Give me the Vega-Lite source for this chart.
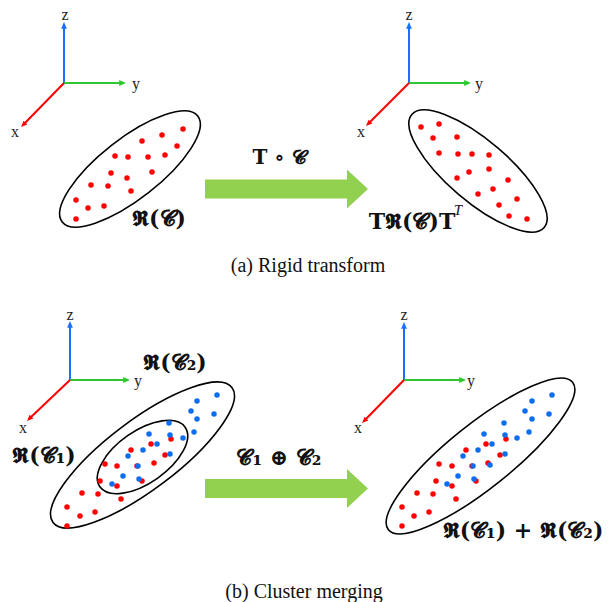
{
  "$schema": "https://vega.github.io/schema/vega-lite/v6.json",
  "autosize": {"type": "fit", "contains": "padding"},
  "width": 608,
  "height": 602,
  "padding": 0,
  "background": "white",
  "config": {"view": {"stroke": null}},
  "datasets": {
    "dots": [
      {"x":183,"y":129,"c":"red"},{"x":162,"y":135,"c":"red"},{"x":142,"y":141,"c":"red"},{"x":177,"y":146,"c":"red"},
      {"x":115,"y":156,"c":"red"},{"x":128,"y":157,"c":"red"},{"x":148,"y":157,"c":"red"},{"x":165,"y":155,"c":"red"},
      {"x":111,"y":173,"c":"red"},{"x":127,"y":178,"c":"red"},{"x":152,"y":172,"c":"red"},{"x":91,"y":185,"c":"red"},
      {"x":108,"y":186,"c":"red"},{"x":131,"y":191,"c":"red"},{"x":76,"y":200,"c":"red"},{"x":88,"y":208,"c":"red"},
      {"x":104,"y":206,"c":"red"},{"x":76,"y":219,"c":"red"},
      {"x":421,"y":127,"c":"red"},{"x":439,"y":124,"c":"red"},{"x":433,"y":138,"c":"red"},{"x":457,"y":137,"c":"red"},
      {"x":439,"y":153,"c":"red"},{"x":458,"y":154,"c":"red"},{"x":472,"y":154,"c":"red"},{"x":489,"y":155,"c":"red"},
      {"x":489,"y":169,"c":"red"},{"x":469,"y":172,"c":"red"},{"x":457,"y":178,"c":"red"},{"x":508,"y":180,"c":"red"},
      {"x":493,"y":189,"c":"red"},{"x":478,"y":194,"c":"red"},{"x":517,"y":199,"c":"red"},{"x":499,"y":205,"c":"red"},
      {"x":509,"y":216,"c":"red"},{"x":527,"y":219,"c":"red"},
      {"x":171,"y":439,"c":"red"},{"x":151,"y":444,"c":"red"},{"x":131,"y":450,"c":"red"},{"x":165,"y":455,"c":"red"},
      {"x":105,"y":464,"c":"red"},{"x":117,"y":466,"c":"red"},{"x":137,"y":466,"c":"red"},{"x":154,"y":463,"c":"red"},
      {"x":100,"y":481,"c":"red"},{"x":142,"y":481,"c":"red"},{"x":117,"y":486,"c":"red"},{"x":82,"y":493,"c":"red"},
      {"x":98,"y":494,"c":"red"},{"x":121,"y":499,"c":"red"},{"x":67,"y":507,"c":"red"},{"x":80,"y":516,"c":"red"},
      {"x":95,"y":512,"c":"red"},{"x":67,"y":526,"c":"red"},
      {"x":506,"y":439,"c":"red"},{"x":486,"y":444,"c":"red"},{"x":466,"y":450,"c":"red"},{"x":500,"y":455,"c":"red"},
      {"x":439,"y":464,"c":"red"},{"x":452,"y":466,"c":"red"},{"x":472,"y":466,"c":"red"},{"x":488,"y":463,"c":"red"},
      {"x":436,"y":481,"c":"red"},{"x":476,"y":481,"c":"red"},{"x":452,"y":486,"c":"red"},{"x":417,"y":493,"c":"red"},
      {"x":433,"y":494,"c":"red"},{"x":456,"y":499,"c":"red"},{"x":402,"y":507,"c":"red"},{"x":414,"y":516,"c":"red"},
      {"x":429,"y":512,"c":"red"},{"x":402,"y":526,"c":"red"},
      {"x":217,"y":395,"c":"blue"},{"x":197,"y":401,"c":"blue"},{"x":191,"y":411,"c":"blue"},{"x":214,"y":414,"c":"blue"},
      {"x":197,"y":419,"c":"blue"},{"x":169,"y":423,"c":"blue"},{"x":194,"y":432,"c":"blue"},{"x":149,"y":434,"c":"blue"},
      {"x":170,"y":435,"c":"blue"},{"x":183,"y":438,"c":"blue"},{"x":157,"y":444,"c":"blue"},{"x":143,"y":450,"c":"blue"},
      {"x":170,"y":454,"c":"blue"},{"x":128,"y":456,"c":"blue"},{"x":138,"y":466,"c":"blue"},{"x":123,"y":476,"c":"blue"},
      {"x":139,"y":479,"c":"blue"},{"x":112,"y":484,"c":"blue"},
      {"x":552,"y":395,"c":"blue"},{"x":532,"y":401,"c":"blue"},{"x":525,"y":411,"c":"blue"},{"x":549,"y":414,"c":"blue"},
      {"x":532,"y":419,"c":"blue"},{"x":504,"y":423,"c":"blue"},{"x":529,"y":432,"c":"blue"},{"x":484,"y":434,"c":"blue"},
      {"x":505,"y":435,"c":"blue"},{"x":517,"y":438,"c":"blue"},{"x":492,"y":444,"c":"blue"},{"x":478,"y":450,"c":"blue"},
      {"x":505,"y":454,"c":"blue"},{"x":463,"y":456,"c":"blue"},{"x":473,"y":466,"c":"blue"},{"x":458,"y":476,"c":"blue"},
      {"x":474,"y":479,"c":"blue"},{"x":447,"y":484,"c":"blue"},{"x":490,"y":465,"c":"blue"}
    ],
    "axes": [
      {"x":64,"y":83,"x2":64,"y2":26,"axis":"z"},{"x":64,"y":83,"x2":122,"y2":83,"axis":"y"},{"x":64,"y":83,"x2":24,"y2":124,"axis":"x"},
      {"x":409,"y":83,"x2":409,"y2":26,"axis":"z"},{"x":409,"y":83,"x2":467,"y2":83,"axis":"y"},{"x":409,"y":83,"x2":369,"y2":123,"axis":"x"},
      {"x":70,"y":380,"x2":70,"y2":325,"axis":"z"},{"x":70,"y":380,"x2":126,"y2":380,"axis":"y"},{"x":70,"y":380,"x2":30,"y2":418,"axis":"x"},
      {"x":404,"y":380,"x2":404,"y2":326,"axis":"z"},{"x":404,"y":380,"x2":462,"y2":380,"axis":"y"},{"x":404,"y":380,"x2":365,"y2":420,"axis":"x"}
    ],
    "heads": [
      {"x":64,"y":22,"axis":"z"},{"x":126,"y":83,"axis":"y"},{"x":21,"y":127,"axis":"x"},
      {"x":409,"y":22,"axis":"z"},{"x":471,"y":83,"axis":"y"},{"x":366,"y":126,"axis":"x"},
      {"x":70,"y":321,"axis":"z"},{"x":130,"y":380,"axis":"y"},{"x":27,"y":421,"axis":"x"},
      {"x":404,"y":322,"axis":"z"},{"x":466,"y":380,"axis":"y"},{"x":362,"y":423,"axis":"x"}
    ],
    "axislabels": [
      {"x":65,"y":15,"t":"z"},{"x":136,"y":84,"t":"y"},{"x":15,"y":132,"t":"x"},
      {"x":409,"y":15,"t":"z"},{"x":479,"y":84,"t":"y"},{"x":361,"y":132,"t":"x"},
      {"x":70,"y":315,"t":"z"},{"x":138,"y":381,"t":"y"},{"x":23,"y":428,"t":"x"},
      {"x":404,"y":315,"t":"z"},{"x":471,"y":381,"t":"y"},{"x":358,"y":428,"t":"x"}
    ],
    "ellipses": [
      {"x":130,"y":169,"id":"a1"},{"x":478,"y":171,"id":"a2"},
      {"x":142.5,"y":455,"id":"b1"},{"x":142.5,"y":457,"id":"b2"},{"x":480.5,"y":456,"id":"b3"}
    ],
    "arrows": [{"x":286.5,"y":189},{"x":286.5,"y":488.5}],
    "math": [
      {"x":159,"y":219,"t":"𝕽(𝓒)"},
      {"x":412,"y":222,"t":"𝐓𝕽(𝓒)𝐓"},
      {"x":175,"y":363,"t":"𝕽(𝓒₂)"},
      {"x":44,"y":456,"t":"𝕽(𝓒₁)"},
      {"x":279,"y":458,"t":"𝓒₁ ⊕ 𝓒₂"},
      {"x":523,"y":531,"t":"𝕽(𝓒₁) + 𝕽(𝓒₂)"}
    ],
    "mathsmall": [
      {"x":279,"y":158,"t":"𝐓 ∘ 𝓒"}
    ],
    "superscripts": [
      {"x":458,"y":210,"t":"T"}
    ],
    "captions": [
      {"x":308,"y":266,"t":"(a)  Rigid transform"},
      {"x":304,"y":592,"t":"(b)  Cluster merging"}
    ]
  },
  "encoding": {
    "x": {"field": "x", "type": "quantitative", "scale": {"domain": [0, 608], "nice": false, "zero": false}, "axis": null},
    "y": {"field": "y", "type": "quantitative", "scale": {"domain": [602, 0], "nice": false, "zero": false}, "axis": null}
  },
  "layer": [
    {
      "data": {"name": "arrows"},
      "mark": {"type": "point", "shape": "M-1,-0.117L0.742,-0.117L0.742,-0.239L1,0L0.742,0.239L0.742,0.117L-1,0.117Z", "size": 26569, "filled": true, "fill": "#92d050", "strokeWidth": 0, "opacity": 1}
    },
    {
      "data": {"name": "axes"},
      "mark": {"type": "rule", "strokeWidth": 2},
      "encoding": {
        "x2": {"field": "x2"},
        "y2": {"field": "y2"},
        "color": {"field": "axis", "type": "nominal", "scale": {"domain": ["x", "y", "z"], "range": ["#ff0000", "#2ec82e", "#1a6fff"]}, "legend": null}
      }
    },
    {
      "data": {"name": "heads"},
      "mark": {"type": "point", "filled": true, "size": 110, "opacity": 1, "strokeWidth": 0},
      "encoding": {
        "shape": {"field": "axis", "type": "nominal", "scale": {"domain": ["x", "y", "z"], "range": ["M0,0L1.2,-0.5L0.5,-1.2Z", "M0,0L-1.3,-0.55L-1.3,0.55Z", "M0,0L-0.55,1.3L0.55,1.3Z"]}, "legend": null},
        "color": {"field": "axis", "type": "nominal", "scale": {"domain": ["x", "y", "z"], "range": ["#ff0000", "#2ec82e", "#1a6fff"]}, "legend": null}
      }
    },
    {
      "data": {"name": "axislabels"},
      "mark": {"type": "text", "font": "Liberation Serif", "fontSize": 16, "color": "#222", "align": "center", "baseline": "middle"},
      "encoding": {"text": {"field": "t"}}
    },
    {
      "data": {"name": "ellipses"},
      "transform": [{"filter": "datum.id == 'a1'"}],
      "mark": {"type": "point", "shape": "M-1,0A1,0.35,0,1,1,1,0A1,0.35,0,1,1,-1,0Z", "size": 29584, "angle": -38, "filled": false, "stroke": "black", "strokeWidth": 1.6, "opacity": 1}
    },
    {
      "data": {"name": "ellipses"},
      "transform": [{"filter": "datum.id == 'a2'"}],
      "mark": {"type": "point", "shape": "M-1,0A1,0.35,0,1,1,1,0A1,0.35,0,1,1,-1,0Z", "size": 30276, "angle": 40.5, "filled": false, "stroke": "black", "strokeWidth": 1.6, "opacity": 1}
    },
    {
      "data": {"name": "ellipses"},
      "transform": [{"filter": "datum.id == 'b1'"}],
      "mark": {"type": "point", "shape": "M-1,0A1,0.31,0,1,1,1,0A1,0.31,0,1,1,-1,0Z", "size": 50176, "angle": -37, "filled": false, "stroke": "black", "strokeWidth": 1.6, "opacity": 1}
    },
    {
      "data": {"name": "ellipses"},
      "transform": [{"filter": "datum.id == 'b2'"}],
      "mark": {"type": "point", "shape": "M-1,0A1,0.5,0,1,1,1,0A1,0.5,0,1,1,-1,0Z", "size": 10816, "angle": -35, "filled": false, "stroke": "black", "strokeWidth": 1.6, "opacity": 1}
    },
    {
      "data": {"name": "ellipses"},
      "transform": [{"filter": "datum.id == 'b3'"}],
      "mark": {"type": "point", "shape": "M-1,0A1,0.27,0,1,1,1,0A1,0.27,0,1,1,-1,0Z", "size": 55696, "angle": -38.7, "filled": false, "stroke": "black", "strokeWidth": 1.6, "opacity": 1}
    },
    {
      "data": {"name": "dots"},
      "mark": {"type": "circle", "size": 30, "opacity": 1},
      "encoding": {
        "color": {"field": "c", "type": "nominal", "scale": {"domain": ["red", "blue"], "range": ["#ff0000", "#0d6ef0"]}, "legend": null}
      }
    },
    {
      "data": {"name": "math"},
      "mark": {"type": "text", "font": "DejaVu Serif", "fontSize": 22, "fontWeight": "bold", "color": "#111", "align": "center", "baseline": "middle"},
      "encoding": {"text": {"field": "t"}}
    },
    {
      "data": {"name": "mathsmall"},
      "mark": {"type": "text", "font": "DejaVu Serif", "fontSize": 20, "fontWeight": "bold", "color": "#111", "align": "center", "baseline": "middle"},
      "encoding": {"text": {"field": "t"}}
    },
    {
      "data": {"name": "superscripts"},
      "mark": {"type": "text", "font": "Liberation Serif", "fontSize": 15, "fontStyle": "italic", "color": "#111", "align": "center", "baseline": "middle"},
      "encoding": {"text": {"field": "t"}}
    },
    {
      "data": {"name": "captions"},
      "mark": {"type": "text", "font": "Liberation Serif", "fontSize": 20, "color": "#111", "align": "center", "baseline": "middle"},
      "encoding": {"text": {"field": "t"}}
    }
  ],
  "resolve": {"scale": {"color": "independent", "shape": "independent"}}
}
